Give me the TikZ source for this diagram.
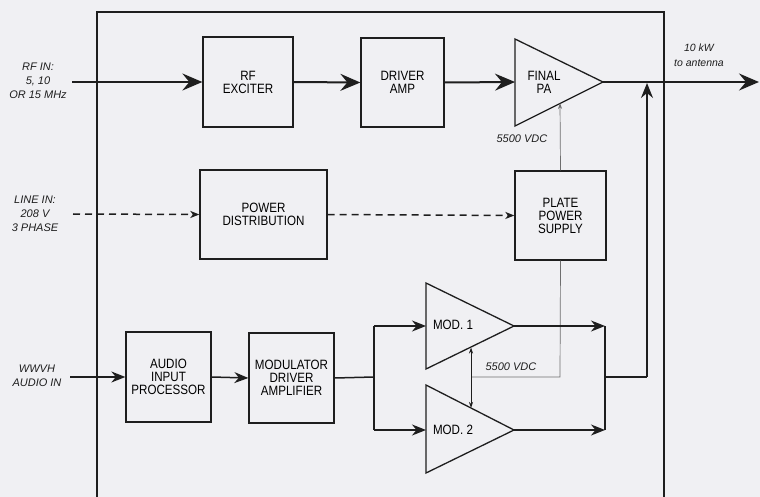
\documentclass[tikz,border=0pt]{standalone}
\usepackage{fontspec}
\setmainfont{Liberation Sans}
\newfontfamily\boxfont{Liberation Sans}[FakeStretch=0.86]
\usetikzlibrary{arrows.meta}
\definecolor{bgc}{RGB}{240,240,243}
\definecolor{ink}{RGB}{30,30,30}
\definecolor{thin}{RGB}{110,110,110}
\begin{document}
\begin{tikzpicture}[x=1pt,y=-1pt,
  blk/.style={draw=ink,line width=1.3pt,fill=none,inner sep=0pt,align=center,
    font=\boxfont\fontsize{13.5}{13}\selectfont},
  tri/.style={draw=ink,line width=1.3pt,line join=miter},
  lbl/.style={align=center,inner sep=0pt,font=\itshape\fontsize{11}{14}\selectfont,text=ink},
  big/.style={draw=ink,line width=2pt,-{Stealth[length=20pt,width=17pt,inset=7pt]}},
  med/.style={draw=ink,line width=1.5pt,-{Stealth[length=14pt,width=11pt,inset=4.5pt]}},
  wire/.style={draw=ink,line width=1.5pt},
  dsh/.style={draw=ink,line width=1.5pt,dash pattern=on 7pt off 5pt,-{Stealth[length=9pt,width=7pt,inset=2.5pt]}},
  gry/.style={draw=thin,line width=0.7pt},
]
\fill[bgc] (0,0) rectangle (760,497);
\useasboundingbox (0,0) rectangle (760,497);
% frame
\draw[ink,line width=1.5pt] (97,497) -- (97,12) -- (664,12) -- (664,497);
% blocks
\node[blk,minimum width=90pt,minimum height=90pt] (rfex) at (248,82) {RF\\EXCITER};
\node[blk,minimum width=83pt,minimum height=89pt] (drv) at (402.5,82.5) {DRIVER\\AMP};
\node[blk,minimum width=127pt,minimum height=89pt] (pwr) at (263.5,214.5) {POWER\\DISTRIBUTION};
\node[blk,minimum width=91pt,minimum height=89pt] (plate) at (560.5,215.5) {PLATE\\POWER\\SUPPLY};
\node[blk,minimum width=85pt,minimum height=90pt] (aip) at (168.5,377) {AUDIO\\INPUT\\PROCESSOR};
\node[blk,minimum width=85pt,minimum height=90pt] (mda) at (291.5,378) {MODULATOR\\DRIVER\\AMPLIFIER};
% triangles
\draw[tri] (515,39) -- (603,82) -- (515,126) -- cycle;
\coordinate (paIn) at (515,82);
\coordinate (paOut) at (603,82);
\coordinate (paBot) at (560,103);
\node[blk,draw=none] (paT) at (544,82) {FINAL\\PA};
\draw[tri] (426,283) -- (514,326) -- (426,369) -- cycle;
\coordinate (m1In) at (426,326);
\coordinate (m1Out) at (514,326);
\coordinate (m1Bot) at (471,347.5);
\node[blk,draw=none] (m1T) at (453,325) {MOD. 1};
\draw[tri] (426,385) -- (514,430) -- (426,473) -- cycle;
\coordinate (m2In) at (426,430);
\coordinate (m2Out) at (514,430);
\coordinate (m2Top) at (471,408);
\node[blk,draw=none] (m2T) at (453,430) {MOD. 2};
% labels
\node[lbl] (rfin) at (38,81) {RF IN:\\5, 10\\OR 15 MHz};
\node[lbl] (linein) at (35,214) {LINE IN:\\208 V\\3 PHASE};
\node[lbl] (wwvh) at (37,376) {WWVH\\AUDIO IN};
\node[lbl,font=\itshape\fontsize{10.5}{15}\selectfont] (ant) at (699,55) {10 kW\\to antenna};
\node[lbl] (v1) at (522,139) {5500 VDC};
\node[lbl] (v2) at (511,367) {5500 VDC};
% coordinates
\coordinate (rfStart) at (72,82);
\coordinate (antEnd) at (759,82);
\coordinate (lineStart) at (73,214);
\coordinate (audStart) at (70,377);
\coordinate (split) at (374,377);
\coordinate (splitT) at (374,326);
\coordinate (splitB) at (374,430);
\coordinate (sumT) at (605,326);
\coordinate (sumB) at (605,430);
\coordinate (sumM) at (605,377);
\coordinate (upC) at (647,377);
\coordinate (upTip) at (647,83);
\coordinate (hvC) at (560,377);
\coordinate (hvL) at (471,377);
% RF chain
\draw[big] (rfStart) -- (rfex.west);
\draw[big] (rfex.east) -- (drv.west);
\draw[big] (drv.east) -- (paIn);
\draw[big] (paOut) -- (antEnd);
% power
\draw[dsh] (lineStart) -- (pwr.west);
\draw[dsh] (pwr.east) -- (plate.west);
\draw[gry,-{Stealth[length=6pt,width=4pt]}] (plate.north) -- (paBot);
\draw[gry] (plate.south) -- (hvC) -- (hvL);
\draw[draw=ink,line width=0.8pt,{Stealth[length=6pt,width=4pt]}-{Stealth[length=6pt,width=4pt]}] (m1Bot) -- (m2Top);
% audio chain
\draw[med] (audStart) -- (aip.west);
\draw[med] (aip.east) -- (mda.west);
\draw[wire] (mda.east) -- (split);
\draw[wire] (splitT) -- (splitB);
\draw[med] (splitT) -- (m1In);
\draw[med] (splitB) -- (m2In);
\draw[med] (m1Out) -- (sumT);
\draw[med] (m2Out) -- (sumB);
\draw[wire] (sumT) -- (sumB);
\draw[wire] (sumM) -- (upC);
\draw[draw=ink,line width=1.5pt,-{Stealth[length=15pt,width=12pt,inset=5pt]}] (upC) -- (upTip);
\end{tikzpicture}
\end{document}
